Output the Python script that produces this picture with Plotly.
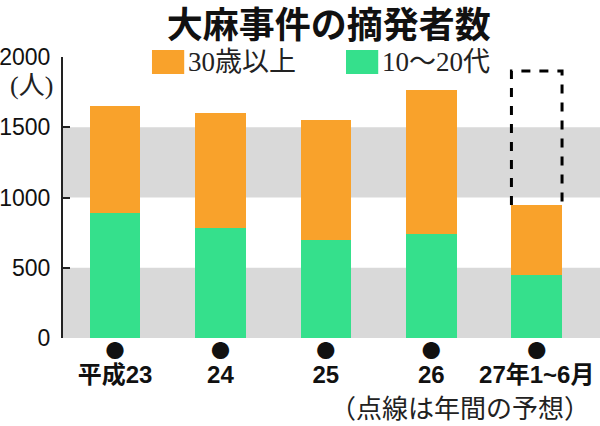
import plotly.graph_objects as go

# 大麻事件の摘発者数 (persons)
years = ["平成23", "24", "25", "26", "27年1~6月"]
age_10_20s = [887, 785, 697, 740, 448]
age_30_plus = [765, 820, 858, 1024, 498]
forecast_last = 1900  # dashed box: annual forecast for the last year

y_ticks = [0, 500, 1000, 1500, 2000]

ORANGE = "#F9A22B"
GREEN = "#35E08C"
BAND = "#D9D9D9"
SANS_CJK = "Noto Sans CJK JP"
SERIF_MIX = "Liberation Serif, Noto Sans CJK JP"

xs = list(range(len(years)))
bar_w = 0.48

fig = go.Figure()
fig.add_trace(go.Bar(x=xs, y=age_10_20s, name="10～20代", width=bar_w,
                     marker=dict(color=GREEN, line=dict(width=0))))
fig.add_trace(go.Bar(x=xs, y=age_30_plus, name="30歳以上", width=bar_w,
                     marker=dict(color=ORANGE, line=dict(width=0))))

# grey bands behind the bars
for lo, hi in [(0, 500), (1000, 1500)]:
  fig.add_shape(type="rect", xref="paper", yref="y", x0=0, x1=1, y0=lo, y1=hi,
                fillcolor=BAND, line=dict(width=0), layer="below")

# dotted outline for the annual forecast on the last bar
last = len(years) - 1
top = age_10_20s[last] + age_30_plus[last]
bx0, bx1 = last - bar_w / 2, last + bar_w / 2
fig.add_shape(type="path",
              path=f"M {bx0},{top} L {bx0},{forecast_last} L {bx1},{forecast_last} L {bx1},{top}",
              xref="x", yref="y", line=dict(color="black", width=3, dash="dash"))

# hand-made legend (big square swatches)
legend_items = [("30歳以上", ORANGE, 0.1657), ("10～20代", GREEN, 0.527)]
for label, color, lx in legend_items:
  fig.add_shape(type="rect", xref="paper", yref="paper", x0=lx, x1=lx + 0.06,
                y0=0.9395, y1=1.025, fillcolor=color, line=dict(width=0))
  fig.add_annotation(text=label, xref="paper", yref="paper", x=lx + 0.064, y=0.982,
                     xanchor="left", yanchor="middle", showarrow=False,
                     font=dict(family=SERIF_MIX, size=27, color="#222"))

fig.add_annotation(text="(人)", xref="paper", yref="paper", x=-0.015, y=0.898,
                   xanchor="right", yanchor="middle", showarrow=False,
                   font=dict(family=SERIF_MIX, size=26, color="#222"))
fig.add_annotation(text="（点線は年間の予想）", xref="paper", yref="paper", x=0.985, y=-0.253,
                   xanchor="right", yanchor="middle", showarrow=False,
                   font=dict(family=SERIF_MIX, size=26, color="#222"))

# dot on the first line (base font), bold label on the second
tick_labels = [
  f"●<br><span style='font-family:Liberation Sans, Noto Sans CJK JP;font-size:24px'><b>{y}</b></span>"
  for y in years
]

fig.update_layout(
  width=600, height=426,
  margin=dict(l=63, r=0, t=57, b=88, autoexpand=False),
  barmode="stack", showlegend=False,
  plot_bgcolor="white", paper_bgcolor="white",
  title=dict(text="大麻事件の摘発者数", x=0.548, xanchor="center", y=0.94, yanchor="middle",
             font=dict(family=SANS_CJK, size=36, color="#111", weight="bold")),
  xaxis=dict(range=[-0.493, 4.6], tickvals=xs, automargin=False,
             ticktext=tick_labels,
             showline=False, showgrid=False, zeroline=False, ticks="",
             tickfont=dict(family=SANS_CJK, size=19, color="#111")),
  yaxis=dict(range=[0, 2000], tickvals=y_ticks, showgrid=False, zeroline=False,
             showline=True, linecolor="#222", linewidth=2, automargin=False,
             ticks="inside", ticklen=7, tickwidth=2, tickcolor="#222",
             ticklabelstandoff=6,
             tickfont=dict(family="Liberation Sans", size=23, color="#111")),
)

# the browser's default body margin would shift the whole chart by 8px
fig.write_html("out.html", config={"displayModeBar": False},
               post_script="document.body.style.margin='0';")
